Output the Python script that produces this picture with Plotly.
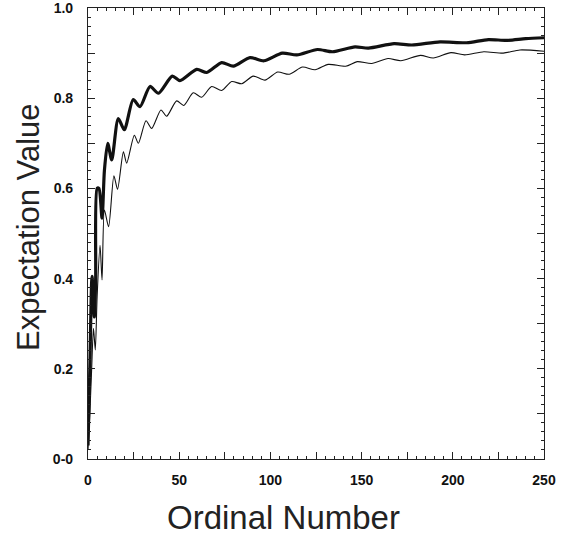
import plotly.graph_objects as go

# Thick (upper) curve: knot points
thick_x = [0, 1, 2.2, 3.5, 4.2, 5, 6, 7.7, 9, 10.8, 13, 16.6, 19.9, 24.8, 28.5, 34, 38.6,
           46.2, 50.4, 59.6, 65.1, 73.3, 79.7, 88.8, 96.5, 106.5, 114.5, 125.8, 134,
           146.4, 153.7, 167.8, 177.5, 193, 207.6, 219.5, 229.5, 240, 250]
thick_y = [0.03, 0.20, 0.405, 0.315, 0.40, 0.60, 0.60, 0.534, 0.64, 0.70, 0.663, 0.755, 0.73,
           0.797, 0.781, 0.826, 0.811, 0.849, 0.839, 0.864, 0.857, 0.879, 0.871, 0.89,
           0.883, 0.90, 0.896, 0.908, 0.903, 0.914, 0.911, 0.921, 0.918, 0.925, 0.923,
           0.93, 0.928, 0.932, 0.934]

# Thin (lower) curve
thin_x = [0, 1, 2, 3, 4, 5, 6.6, 7.7, 9, 11.3, 14.2, 16.2, 19.4, 21.2, 25.4, 27.6, 31.8,
          34.9, 40, 43.1, 48.6, 52.5, 57.7, 62.3, 67.8, 73.3, 78.8, 84.3, 90.6, 97,
          104, 110.3, 117.6, 124.5, 131.7, 141.3, 147.6, 155.5, 164.5, 171.5, 182.3,
          189.3, 199, 206.5, 217, 227.7, 236.8, 250]
thin_y = [0.02, 0.10, 0.20, 0.29, 0.242, 0.36, 0.474, 0.397, 0.552, 0.515, 0.628, 0.598,
          0.681, 0.656, 0.718, 0.70, 0.75, 0.733, 0.774, 0.76, 0.794, 0.784, 0.812,
          0.802, 0.826, 0.817, 0.837, 0.832, 0.849, 0.840, 0.858, 0.853, 0.869, 0.863,
          0.875, 0.871, 0.881, 0.877, 0.888, 0.883, 0.895, 0.889, 0.901, 0.896, 0.903,
          0.900, 0.907, 0.904]

x_tickvals = [0, 25, 50, 75, 100, 125, 150, 175, 200, 225, 250]
x_ticktext = ["0", "", "50", "", "100", "", "150", "", "200", "", "250"]
y_tickvals = [0, 0.1, 0.2, 0.3, 0.4, 0.5, 0.6, 0.7, 0.8, 0.9, 1.0]
y_ticktext = ["0-0", "", "0.2", "", "0.4", "", "0.6", "", "0.8", "", "1.0"]

fig = go.Figure()
fig.add_trace(go.Scatter(x=thin_x, y=thin_y, mode="lines",
                         line=dict(color="#111111", width=1.1, shape="spline", smoothing=0.7),
                         showlegend=False))
fig.add_trace(go.Scatter(x=thick_x, y=thick_y, mode="lines",
                         line=dict(color="#111111", width=3.2, shape="spline", smoothing=0.7),
                         showlegend=False))

tickfont = dict(family="Liberation Sans, Arial, sans-serif", size=14, color="#111111", weight="bold")
axis_common = dict(showline=True, linecolor="#222222", linewidth=1.2, mirror="allticks",
                   ticks="inside", ticklen=7, tickwidth=1, tickcolor="#222222",
                   showgrid=False, zeroline=False, tickfont=tickfont,
                   ticklabeloverflow="allow")

fig.update_xaxes(range=[0, 250], tickvals=x_tickvals, ticktext=x_ticktext,
                 minor=dict(ticks="inside", ticklen=3, tickcolor="#222222", dtick=5, tick0=0),
                 ticklabelstandoff=8, **axis_common)
fig.update_yaxes(range=[0, 1.0], tickvals=y_tickvals, ticktext=y_ticktext,
                 minor=dict(ticks="inside", ticklen=3, tickcolor="#222222", dtick=0.02, tick0=0),
                 ticklabelstandoff=11, **axis_common)

fig.add_annotation(text="Expectation Value", xref="paper", yref="paper",
                   x=-0.132, y=0.514, textangle=-90, showarrow=False,
                   xanchor="center", yanchor="middle",
                   font=dict(family="Liberation Sans, Arial, sans-serif", size=31, color="#222222"))
fig.add_annotation(text="Ordinal Number", xref="paper", yref="paper",
                   x=0.428, y=-0.129, showarrow=False, xanchor="center", yanchor="middle",
                   font=dict(family="Liberation Sans, Arial, sans-serif", size=33, color="#222222"))

fig.update_layout(width=575, height=536, margin=dict(l=88, r=31, t=8, b=77, autoexpand=False),
                  plot_bgcolor="white", paper_bgcolor="white")

fig.write_html("out.html", config={"displayModeBar": False},
               post_script="document.body.style.margin='0';")
